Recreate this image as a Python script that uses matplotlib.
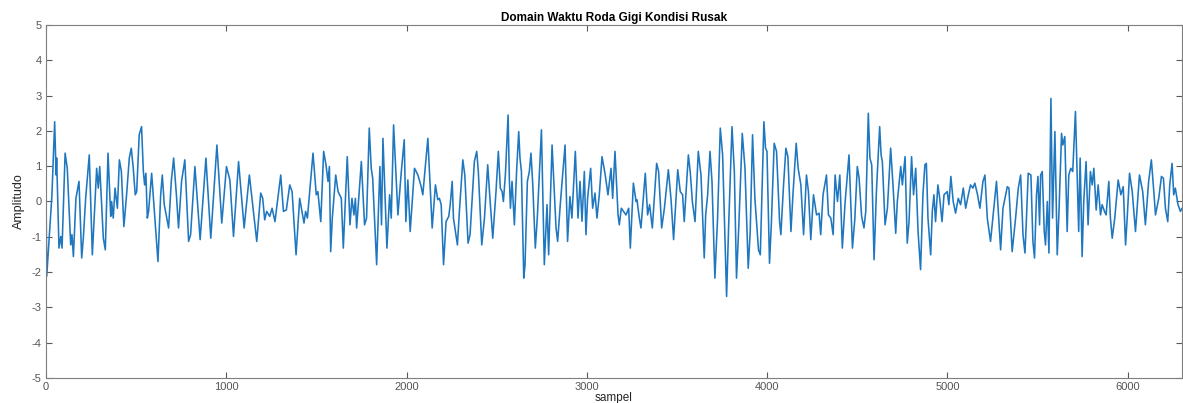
import numpy as np
import matplotlib.pyplot as plt

# Peaks / troughs (sample index, amplitude)
sampel = [0, 4, 33, 48, 56, 59, 72, 82, 89, 106, 118, 137, 144, 152, 166, 183, 198, 207, 220, 240,
          257, 281, 290, 298, 318, 329, 344, 359, 364, 373, 383, 396, 407, 418, 432, 447, 462, 473, 484, 495,
          503, 517, 530, 540, 547, 554, 562, 569, 586, 621, 636, 645, 656, 680, 695, 708, 724, 735, 752, 770,
          791, 802, 826, 855, 887, 914, 948, 975, 1001, 1020, 1040, 1068, 1099, 1128, 1169, 1191, 1202, 1213, 1224, 1241,
          1254, 1270, 1302, 1317, 1333, 1352, 1365, 1387, 1407, 1431, 1440, 1450, 1481, 1499, 1508, 1524, 1540, 1553, 1564, 1572,
          1579, 1588, 1607, 1620, 1638, 1649, 1671, 1686, 1697, 1708, 1716, 1723, 1749, 1767, 1778, 1793, 1804, 1812, 1834, 1852,
          1861, 1869, 1891, 1906, 1915, 1928, 1952, 1970, 1987, 1996, 2007, 2020, 2044, 2063, 2081, 2090, 2118, 2142, 2160, 2173,
          2182, 2192, 2205, 2219, 2234, 2242, 2253, 2260, 2282, 2293, 2312, 2323, 2341, 2352, 2376, 2389, 2398, 2417, 2432, 2450,
          2461, 2478, 2496, 2509, 2520, 2530, 2537, 2548, 2563, 2570, 2576, 2585, 2598, 2611, 2622, 2629, 2637, 2650, 2657, 2670,
          2681, 2690, 2700, 2714, 2725, 2748, 2764, 2779, 2788, 2807, 2829, 2838, 2853, 2879, 2893, 2906, 2917, 2936, 2951, 2962,
          2973, 2986, 2995, 3004, 3021, 3032, 3045, 3056, 3069, 3084, 3102, 3117, 3134, 3143, 3156, 3173, 3180, 3191, 3217, 3232,
          3241, 3258, 3273, 3278, 3291, 3300, 3310, 3324, 3337, 3348, 3363, 3387, 3398, 3415, 3430, 3452, 3467, 3481, 3504, 3518,
          3531, 3540, 3563, 3574, 3585, 3600, 3618, 3633, 3651, 3659, 3670, 3683, 3694, 3710, 3725, 3740, 3753, 3775, 3786, 3805,
          3818, 3830, 3843, 3862, 3877, 3895, 3906, 3919, 3932, 3952, 3962, 3982, 3991, 3999, 4013, 4023, 4039, 4052, 4069, 4076,
          4091, 4104, 4115, 4132, 4143, 4161, 4172, 4187, 4202, 4218, 4229, 4242, 4257, 4274, 4288, 4297, 4310, 4329, 4340, 4353,
          4366, 4377, 4390, 4403, 4417, 4432, 4454, 4473, 4486, 4500, 4510, 4524, 4537, 4547, 4561, 4570, 4580, 4593, 4606, 4624,
          4632, 4639, 4654, 4667, 4685, 4698, 4713, 4722, 4741, 4750, 4765, 4777, 4787, 4801, 4812, 4824, 4837, 4851, 4864, 4875,
          4883, 4892, 4907, 4916, 4925, 4934, 4947, 4957, 4970, 4981, 4999, 5008, 5019, 5032, 5045, 5060, 5073, 5088, 5101, 5116,
          5128, 5141, 5152, 5167, 5180, 5197, 5208, 5221, 5239, 5252, 5272, 5295, 5308, 5332, 5341, 5359, 5378, 5393, 5406, 5419,
          5430, 5439, 5448, 5463, 5474, 5483, 5494, 5502, 5511, 5517, 5526, 5537, 5544, 5554, 5563, 5574, 5583, 5596, 5609, 5618,
          5633, 5640, 5651, 5664, 5673, 5684, 5695, 5710, 5721, 5728, 5736, 5747, 5756, 5769, 5780, 5793, 5803, 5812, 5825, 5836,
          5849, 5858, 5871, 5880, 5895, 5904, 5914, 5928, 5947, 5962, 5975, 5988, 5997, 6010, 6025, 6043, 6065, 6083, 6098, 6116,
          6131, 6146, 6154, 6172, 6187, 6198, 6209, 6222, 6233, 6246, 6255, 6264, 6279, 6292, 6300]
amplitudo = [0.3, -2.12, 0.19, 2.26, 0.75, 1.23, -1.32, -0.99, -1.32, 1.37, 0.94, -1.23, -0.94, -1.56, 0.09, 0.57, -1.60, -1.04, 0.09, 1.32,
             -1.51, 0.94, 0.38, 0.99, -1.04, -1.37, 1.37, -0.42, 0.0, -0.47, 0.38, -0.19, 1.18, 0.85, -0.71, 0.19, 1.23, 1.51, 0.94, 0.19,
             0.28, 1.89, 2.12, 0.85, 0.47, 0.80, -0.47, -0.28, 0.80, -1.70, 0.19, 0.75, -0.09, -0.75, 0.57, 1.23, 0.14, -0.75, 0.57, 1.18,
             -1.13, -0.94, 0.99, -1.08, 1.23, -1.04, 1.60, -0.61, 0.99, 0.61, -0.99, 1.13, -0.75, 0.75, -1.13, 0.24, 0.09, -0.52, -0.28, -0.42,
             -0.19, -0.57, 0.75, -0.28, -0.24, 0.47, 0.28, -1.51, 0.09, -0.61, -0.28, -0.47, 1.37, 0.19, 0.28, -0.57, 1.42, 1.04, 0.57, 0.99,
             -1.42, -0.47, 0.75, 0.28, 0.09, -1.32, 1.27, -0.66, 0.09, -0.38, 0.09, -0.75, 1.13, -0.66, -0.47, 2.08, 0.94, 0.66, -1.79, 0.99,
             -0.66, 1.79, -1.32, 0.19, -0.47, 2.17, -0.38, 0.80, 1.75, -0.57, 0.61, -0.85, 0.94, 0.75, 0.42, 0.19, 1.79, -0.75, 0.47, 0.05,
             0.09, -0.09, -1.79, -0.57, -0.42, -0.09, 0.57, -0.47, -1.23, -0.28, 1.18, 0.75, -1.18, -0.94, 1.13, 1.42, 0.85, -1.23, -0.47, 1.04,
             0.19, -1.04, 0.28, 1.42, 0.38, 0.28, 0.0, 0.75, 2.45, 0.66, -0.19, 0.57, -0.66, 0.94, 1.98, 1.23, 0.85, -2.17, -1.79, 0.57,
             0.85, 1.37, 0.47, -1.32, -0.47, 2.03, -1.79, -0.09, -1.51, 1.60, -0.75, -1.13, -0.05, 1.60, -1.13, 0.14, -0.47, 1.42, -0.47, 0.57,
             -0.56, 0.85, -0.94, 0.09, 0.94, -0.19, 0.24, -0.47, 0.19, 1.27, 0.75, 0.19, 0.94, 0.09, 1.42, -0.38, -0.66, -0.19, -0.38, -0.19,
             -1.32, 0.52, 0.0, 0.05, -0.47, -0.75, -0.09, 0.80, -0.38, -0.09, -0.75, 1.08, 0.85, -0.75, -0.19, 0.90, 0.05, -1.08, 0.90, 0.28,
             0.19, -0.57, 1.32, 0.80, 0.0, -0.57, 1.42, 0.75, -1.60, -0.38, 0.19, 1.42, 0.57, -2.17, -0.47, 2.08, 1.32, -2.69, -0.75, 2.12,
             0.85, -2.17, -0.66, 1.93, 0.94, -1.89, -0.85, 1.89, 0.09, -1.37, -1.51, 2.26, 1.51, 1.42, -1.75, -0.66, 1.65, 1.42, -0.57, -0.94,
             0.47, 1.51, 1.27, -0.85, 0.19, 1.65, 0.94, 0.47, -0.94, 0.75, 0.28, -1.08, 0.19, -0.38, -0.33, -0.94, 0.19, 0.75, -0.38, -0.47,
             -0.94, 0.75, 0.0, 0.75, -1.32, -0.05, 1.32, -1.32, -0.52, 0.99, 0.66, -0.42, -0.75, -0.28, 2.50, 1.23, 1.04, -1.65, 0.28, 2.12,
             1.32, 1.13, -0.66, -0.19, 1.51, 0.47, -0.90, 0.0, 0.99, 0.47, 1.27, -1.18, -0.57, 1.27, 0.19, 0.94, -0.85, -1.93, 0.19, 1.04,
             1.08, -0.47, -1.51, -0.28, 0.19, -0.57, 0.47, 0.09, -0.57, 0.19, 0.28, -0.09, 0.71, -0.0, -0.33, 0.09, -0.09, 0.38, -0.19, 0.19,
             0.47, 0.38, 0.52, 0.19, -0.19, 0.57, 0.75, -0.47, -1.13, -0.47, 0.57, -1.37, -0.19, 0.42, 0.38, -1.42, -0.47, 0.38, 0.75, -0.94,
             -1.46, -0.38, 0.80, 0.75, -1.13, -1.60, 0.19, 0.71, -0.66, 0.75, 0.85, -0.85, -1.23, 0.0, -1.46, 2.92, -0.47, 1.98, -1.51, -0.38,
             1.93, 1.60, 1.84, -0.85, 0.75, 0.94, 0.85, 2.55, 0.47, -0.85, 1.23, -1.56, 0.0, 1.13, -0.66, 0.85, 0.47, 0.94, -0.24, 0.47,
             -0.38, -0.09, -0.28, -0.38, 0.57, -0.47, -1.04, -0.47, 0.61, 0.19, 0.42, -1.23, -0.47, 0.80, 0.28, -0.85, 0.75, 0.28, -0.66, 0.57,
             1.18, 0.19, -0.38, 0.09, 0.71, 0.66, -0.19, -0.57, 0.47, 1.08, 0.19, 0.38, -0.09, -0.28, -0.20]

xticks = [0, 1000, 2000, 3000, 4000, 5000, 6000]
yticks = [-5, -4, -3, -2, -1, 0, 1, 2, 3, 4, 5]

plt.rcParams['font.family'] = ['Liberation Sans', 'DejaVu Sans']
plt.rcParams['axes.unicode_minus'] = False

fig = plt.figure(figsize=(11.83, 4.03), dpi=100)
ax = fig.add_axes([46 / 1183, 25 / 403, 1 - 46 / 1183 - 0.001, 353 / 403])

ax.plot(sampel, amplitudo, color='#1f77c0', linewidth=1.15)

ax.set_xlim(0, 6300)
ax.set_ylim(-5, 5)
ax.set_xticks(xticks)
ax.set_yticks(yticks)

ax.set_title("Domain Waktu Roda Gigi Kondisi Rusak", fontsize=8.5, fontweight='bold', pad=3)
ax.set_xlabel("sampel", fontsize=8.5, color='#262626', labelpad=0)
ax.set_ylabel("Amplitudo", fontsize=9, color='#262626', labelpad=5)

for s in ax.spines.values():
    s.set_color('#7f7f7f')
    s.set_linewidth(0.8)
ax.tick_params(direction='in', length=4, width=0.8, color='#5a5a5a', labelsize=8,
               labelcolor='#555555', top=True, right=True, pad=3)

fig.savefig("out.png", dpi=100)
